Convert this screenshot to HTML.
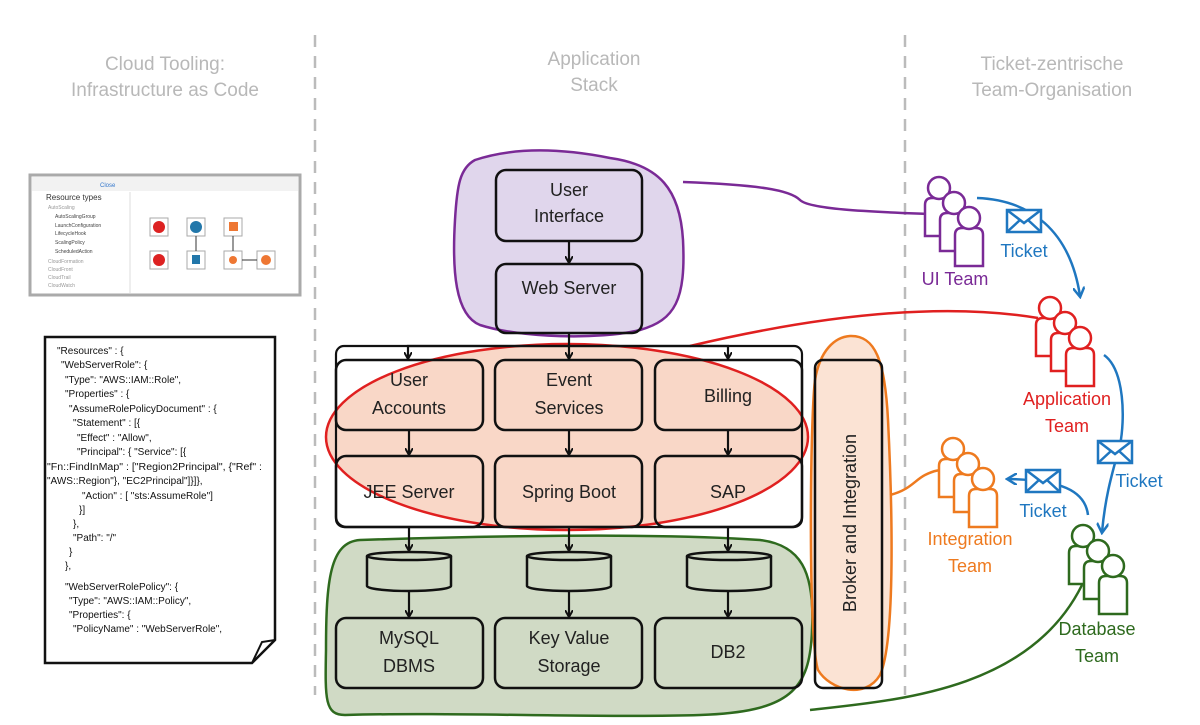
<!DOCTYPE html>
<html><head><meta charset="utf-8"><style>
html,body{margin:0;padding:0;background:#fff;}
svg{display:block;font-family:"Liberation Sans",sans-serif;}
</style></head><body>
<svg width="1200" height="725" viewBox="0 0 1200 725" xmlns="http://www.w3.org/2000/svg">
<defs>
<marker id="ab" markerWidth="8" markerHeight="8" refX="6" refY="4" orient="auto" markerUnits="userSpaceOnUse"><path d="M0,0 L7,4 L0,8" fill="none" stroke="#111" stroke-width="2"/></marker>
<marker id="abl" markerWidth="12" markerHeight="12" refX="9" refY="6" orient="auto" markerUnits="userSpaceOnUse"><path d="M0,0 L10,6 L0,12" fill="none" stroke="#1f77c0" stroke-width="2.5"/></marker>
<g id="p">
<path d="M-14,48 V17 Q-14,10 -7,10 H7 Q14,10 14,17 V48 Z" fill="#fff" stroke="currentColor" stroke-width="2.5"/>
<circle cx="0" cy="0" r="11" fill="#fff" stroke="currentColor" stroke-width="2.5"/>
</g>
<g id="team">
<use href="#p" x="0" y="0"/><use href="#p" x="15" y="15"/><use href="#p" x="30" y="30"/>
</g>
<g id="env"><rect x="0" y="0" width="34" height="22" fill="#fff" stroke="#1f77c0" stroke-width="2.5"/><path d="M0,0 L17,13 L34,0 M0,22 L13,10 M34,22 L21,10" fill="none" stroke="#1f77c0" stroke-width="2.5"/></g>
</defs>

<g fill="#b8b8b8" font-size="19" text-anchor="middle">
<text x="165" y="70">Cloud Tooling:</text><text x="165" y="96">Infrastructure as Code</text>
<text x="594" y="65">Application</text><text x="594" y="91">Stack</text>
<text x="1052" y="70">Ticket-zentrische</text><text x="1052" y="96">Team-Organisation</text>
</g>
<line x1="315" y1="35" x2="315" y2="695" stroke="#bbb" stroke-width="2.5" stroke-dasharray="12,9"/>
<line x1="905" y1="35" x2="905" y2="695" stroke="#bbb" stroke-width="2.5" stroke-dasharray="12,9"/>

<rect x="30" y="175" width="270" height="120" fill="#fff" stroke="#aaa" stroke-width="3"/>
<rect x="32" y="177" width="266" height="14" fill="#f2f2f2"/>
<text x="100" y="187" font-size="6" fill="#37c">Close</text>
<text x="46" y="200" font-size="8" fill="#333">Resource types</text>
<g font-size="5" fill="#999"><text x="48" y="209">AutoScaling</text><text x="55" y="218" fill="#444">AutoScalingGroup</text><text x="55" y="227" fill="#444">LaunchConfiguration</text><text x="55" y="235" fill="#444">LifecycleHook</text><text x="55" y="244" fill="#444">ScalingPolicy</text><text x="55" y="253" fill="#444">ScheduledAction</text><text x="48" y="263">CloudFormation</text><text x="48" y="271">CloudFront</text><text x="48" y="279">CloudTrail</text><text x="48" y="287">CloudWatch</text></g>
<line x1="130" y1="192" x2="130" y2="293" stroke="#ddd"/>
<g><rect x="150" y="218" width="18" height="18" fill="#fff" stroke="#aaa"/><circle cx="159" cy="227" r="6" fill="#d22"/>
<rect x="187" y="218" width="18" height="18" fill="#fff" stroke="#aaa"/><circle cx="196" cy="227" r="6" fill="#27a"/>
<rect x="224" y="218" width="18" height="18" fill="#fff" stroke="#aaa"/><rect x="229" y="222" width="9" height="9" fill="#e73"/>
<rect x="150" y="251" width="18" height="18" fill="#fff" stroke="#aaa"/><circle cx="159" cy="260" r="6" fill="#d22"/>
<rect x="187" y="251" width="18" height="18" fill="#fff" stroke="#aaa"/><rect x="192" y="255" width="8" height="9" fill="#27a"/>
<rect x="224" y="251" width="18" height="18" fill="#fff" stroke="#aaa"/><circle cx="233" cy="260" r="4" fill="#e73"/>
<rect x="257" y="251" width="18" height="18" fill="#fff" stroke="#aaa"/><circle cx="266" cy="260" r="5" fill="#e73"/>
<line x1="242" y1="260" x2="257" y2="260" stroke="#333"/><line x1="233" y1="251" x2="233" y2="236" stroke="#333"/><line x1="196" y1="251" x2="196" y2="236" stroke="#333"/></g>

<path d="M45,337 H275 V640 L252,663 H45 Z" fill="#fff" stroke="#111" stroke-width="2.5"/>
<path d="M275,640 L262,642 L252,663" fill="none" stroke="#111" stroke-width="2"/>
<g font-size="10" fill="#111">
<text x="57" y="354">"Resources" : {</text>
<text x="61" y="368">"WebServerRole": {</text>
<text x="65" y="383">"Type": "AWS::IAM::Role",</text>
<text x="65" y="397">"Properties" : {</text>
<text x="69" y="412">"AssumeRolePolicyDocument" : {</text>
<text x="73" y="426">"Statement"  : [{</text>
<text x="77" y="441">"Effect"  : "Allow",</text>
<text x="77" y="455">"Principal": { "Service": [{</text>
<text x="47" y="470" textLength="215" lengthAdjust="spacingAndGlyphs">"Fn::FindInMap" : ["Region2Principal", {"Ref" :</text>
<text x="47" y="484">"AWS::Region"}, "EC2Principal"]}]},</text>
<text x="82" y="499">"Action"  : [ "sts:AssumeRole"]</text>
<text x="79" y="513">}]</text>
<text x="73" y="527">},</text>
<text x="73" y="541">"Path": "/"</text>
<text x="69" y="555">}</text>
<text x="65" y="569">},</text>
<text x="65" y="590">"WebServerRolePolicy": {</text>
<text x="69" y="604">"Type": "AWS::IAM::Policy",</text>
<text x="69" y="618">"Properties": {</text>
<text x="73" y="632">"PolicyName" : "WebServerRole",</text>
</g>

<path d="M475,160 C520,145 570,150 610,158 C660,165 680,190 683,240 C686,300 675,320 640,330 C600,340 520,338 480,325 C455,315 452,270 455,220 C457,185 460,168 475,160 Z" fill="#e0d6ec" stroke="#7a2a96" stroke-width="2.5"/>
<path d="M683,182 C760,185 790,190 800,200 C810,210 880,212 928,214" fill="none" stroke="#7a2a96" stroke-width="2.5"/>
<ellipse cx="567" cy="437" rx="241" ry="93" fill="#f9d7c7" stroke="#e02020" stroke-width="2.5"/>
<path d="M690,346 C800,320 930,300 1038,318" fill="none" stroke="#e02020" stroke-width="2.5"/>
<path d="M360,540 C450,537 650,532 760,540 C800,545 815,570 812,630 C810,690 790,712 700,715 C600,718 450,712 345,715 C325,715 325,700 326,650 C326,580 330,542 360,540 Z" fill="#d0dac5" stroke="#2e6a1e" stroke-width="2.5"/>
<path d="M810,710 C900,700 1030,690 1082,585" fill="none" stroke="#2e6a1e" stroke-width="2.5"/>
<path d="M850,336 C875,335 885,360 888,420 C892,500 896,640 880,675 C865,700 830,690 818,670 C808,640 810,420 815,380 C820,350 835,337 850,336 Z" fill="#fbe3d4" stroke="#ee7a1f" stroke-width="2.5"/>
<path d="M890,495 C910,490 915,480 925,475 C935,470 940,470 945,470" fill="none" stroke="#ee7a1f" stroke-width="2.5"/>

<g fill="none" stroke="#111" stroke-width="2.5">
<rect x="496" y="170" width="146" height="71" rx="10"/>
<rect x="496" y="264" width="146" height="69" rx="10"/>
<rect x="336" y="346" width="466" height="181" rx="8" stroke-width="2.2"/>
<rect x="815" y="360" width="67" height="328" rx="8"/>
<rect x="336" y="360" width="147" height="70" rx="10"/><rect x="495" y="360" width="147" height="70" rx="10"/><rect x="655" y="360" width="147" height="70" rx="10"/>
<rect x="336" y="456" width="147" height="71" rx="10"/><rect x="495" y="456" width="147" height="71" rx="10"/><rect x="655" y="456" width="147" height="71" rx="10"/>
<rect x="336" y="618" width="147" height="70" rx="10"/><rect x="495" y="618" width="147" height="70" rx="10"/><rect x="655" y="618" width="147" height="70" rx="10"/>
</g>
<g fill="none" stroke="#111" stroke-width="2.5">
<path d="M367,556 V586 A42,5 0 0 0 451,586 V556"/><ellipse cx="409" cy="556" rx="42" ry="4"/>
<path d="M527,556 V586 A42,5 0 0 0 611,586 V556"/><ellipse cx="569" cy="556" rx="42" ry="4"/>
<path d="M687,556 V586 A42,5 0 0 0 771,586 V556"/><ellipse cx="729" cy="556" rx="42" ry="4"/>
</g>
<g stroke="#111" stroke-width="2.2" fill="none" marker-end="url(#ab)">
<line x1="569" y1="241" x2="569" y2="262"/>
<path d="M569,333 V358"/>
<path d="M569,346 H408 V358"/><path d="M569,346 H728 V358"/>
<line x1="409" y1="430" x2="409" y2="454"/><line x1="569" y1="430" x2="569" y2="454"/><line x1="728" y1="430" x2="728" y2="454"/>
<line x1="409" y1="527" x2="409" y2="550"/><line x1="569" y1="527" x2="569" y2="550"/><line x1="728" y1="527" x2="728" y2="550"/>
<line x1="409" y1="591" x2="409" y2="616"/><line x1="569" y1="591" x2="569" y2="616"/><line x1="728" y1="591" x2="728" y2="616"/>
</g>
<g font-size="18" fill="#222" text-anchor="middle">
<text x="569" y="196">User</text><text x="569" y="222">Interface</text>
<text x="569" y="294">Web Server</text>
<text x="409" y="386">User</text><text x="409" y="414">Accounts</text>
<text x="569" y="386">Event</text><text x="569" y="414">Services</text>
<text x="728" y="402">Billing</text>
<text x="409" y="498">JEE Server</text><text x="569" y="498">Spring Boot</text><text x="728" y="498">SAP</text>
<text x="409" y="644">MySQL</text><text x="409" y="672">DBMS</text>
<text x="569" y="644">Key Value</text><text x="569" y="672">Storage</text>
<text x="728" y="658">DB2</text>
<text transform="translate(856,523) rotate(-90)">Broker and Integration</text>
</g>

<use href="#team" x="939" y="188" color="#7a2a96"/>
<use href="#team" x="1050" y="308" color="#e02020"/>
<use href="#team" x="953" y="449" color="#ee7a1f"/>
<use href="#team" x="1083" y="536" color="#2e6a1e"/>
<g font-size="18" text-anchor="middle">
<text x="955" y="285" fill="#7a2a96">UI Team</text>
<text x="1067" y="405" fill="#e02020">Application</text><text x="1067" y="432" fill="#e02020">Team</text>
<text x="970" y="545" fill="#ee7a1f">Integration</text><text x="970" y="572" fill="#ee7a1f">Team</text>
<text x="1097" y="635" fill="#2e6a1e">Database</text><text x="1097" y="662" fill="#2e6a1e">Team</text>
</g>
<g fill="none" stroke="#1f77c0" stroke-width="2.5">
<path d="M977,198 C1030,200 1070,230 1080,296" marker-end="url(#abl)"/>
<path d="M1104,355 C1125,370 1125,420 1120,445 C1110,480 1105,500 1102,532" marker-end="url(#abl)"/>
<path d="M1088,515 C1085,490 1060,480 1008,479" marker-end="url(#abl)"/>
</g>
<use href="#env" x="1007" y="210"/>
<use href="#env" x="1098" y="441"/>
<use href="#env" x="1026" y="470"/>
<g font-size="18" fill="#1f77c0" text-anchor="middle">
<text x="1024" y="257">Ticket</text>
<text x="1139" y="487">Ticket</text>
<text x="1043" y="517">Ticket</text>
</g>
</svg>
</body></html>
